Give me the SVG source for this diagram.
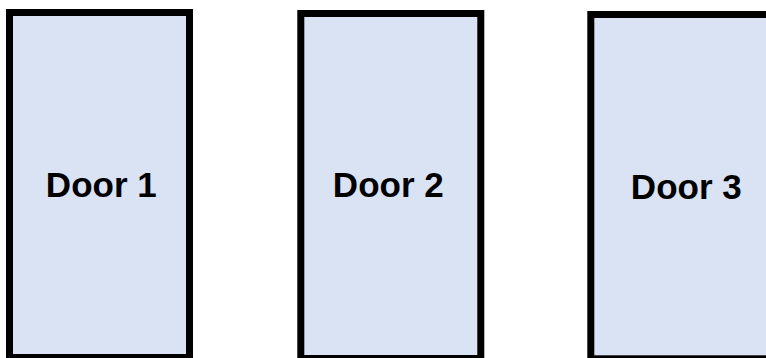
<svg xmlns="http://www.w3.org/2000/svg" width="766" height="358" viewBox="0 0 766 358">
<style>
.door{fill:#DAE3F3;stroke:#000;stroke-width:7}
.lbl{font-family:"Liberation Sans",Arial,sans-serif;font-weight:bold;font-size:35px;fill:#000;text-anchor:middle}
</style>
<rect width="766" height="358" fill="#fff"/>
<g id="door1">
<rect class="door" x="9.5" y="12.5" width="180" height="345"/>
<text class="lbl" x="101.3" y="197">Door 1</text>
</g>
<g id="door2">
<rect class="door" x="300.8" y="13.5" width="180" height="345"/>
<text class="lbl" x="388.3" y="197">Door 2</text>
</g>
<g id="door3">
<rect class="door" x="590.8" y="14.5" width="180" height="344.3"/>
<text class="lbl" x="686.3" y="199">Door 3</text>
</g>
<g id="connectors"/>
</svg>
